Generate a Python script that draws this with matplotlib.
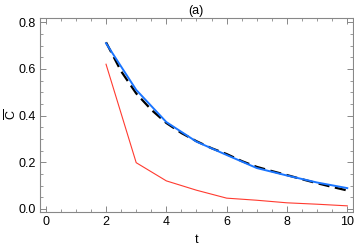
import matplotlib
matplotlib.use("Agg")
import matplotlib.pyplot as plt
from matplotlib.ticker import MultipleLocator, FormatStrFormatter

plt.rcParams['font.family'] = ['Liberation Sans', 'DejaVu Sans']
plt.rcParams['mathtext.fontset'] = 'custom'
plt.rcParams['mathtext.rm'] = 'Liberation Sans'
plt.rcParams['mathtext.it'] = 'Liberation Sans'

# red curve (coarse)
t_red = [2, 3, 4, 5, 6, 7, 8, 9, 10]
c_red = [0.62, 0.198, 0.12, 0.08, 0.046, 0.037, 0.026, 0.02, 0.013]

# blue curve
t_blue = [2, 3, 4, 5, 6, 7, 8, 9, 10]
c_blue = [0.71, 0.51, 0.372, 0.288, 0.231, 0.175, 0.143, 0.113, 0.089]

# black dashed curve
t_dash = [2, 2.5, 3, 3.5, 4, 4.5, 5, 5.5, 6, 6.5, 7, 7.5, 8, 8.5, 9, 9.5, 10]
c_dash = [0.714, 0.59, 0.495, 0.425, 0.368, 0.325, 0.29, 0.26, 0.235, 0.205, 0.18, 0.162, 0.145, 0.127, 0.11, 0.094, 0.079]

fig = plt.figure(figsize=(3.54, 2.47), dpi=100)
ax = fig.add_axes([0.113, 0.143, 0.8833, 0.784])

ax.plot(t_red, c_red, color='#ff3b30', lw=0.8)
ax.plot(t_dash, c_dash, color='black', lw=1.6, dashes=(5, 2.5))
ax.plot(t_blue, c_blue, color='#1a75ff', lw=1.4)

ax.set_xlim(-0.19, 10.18)
ax.set_ylim(-0.012, 0.818)
ax.xaxis.set_major_locator(MultipleLocator(2))
ax.xaxis.set_minor_locator(MultipleLocator(0.5))
ax.yaxis.set_major_locator(MultipleLocator(0.2))
ax.yaxis.set_minor_locator(MultipleLocator(0.05))
ax.yaxis.set_major_formatter(FormatStrFormatter('%.1f'))

for s in ax.spines.values():
    s.set_color('#888888')
    s.set_linewidth(0.8)
ax.tick_params(which='both', direction='in', top=True, right=True, color='#888888', labelsize=9, pad=3)
ax.tick_params(which='major', length=4, width=0.7)
ax.tick_params(which='minor', length=2, width=0.6)

ax.set_xlabel('t', fontsize=9)
ax.xaxis.set_label_coords(0.5, -0.115)
ax.set_ylabel(r'$\overline{\mathrm{C}}$', fontsize=9)
ax.yaxis.set_label_coords(-0.066, 0.5)
ax.set_title('(a)', fontsize=9, pad=3)

fig.savefig('out.png', dpi=100)
